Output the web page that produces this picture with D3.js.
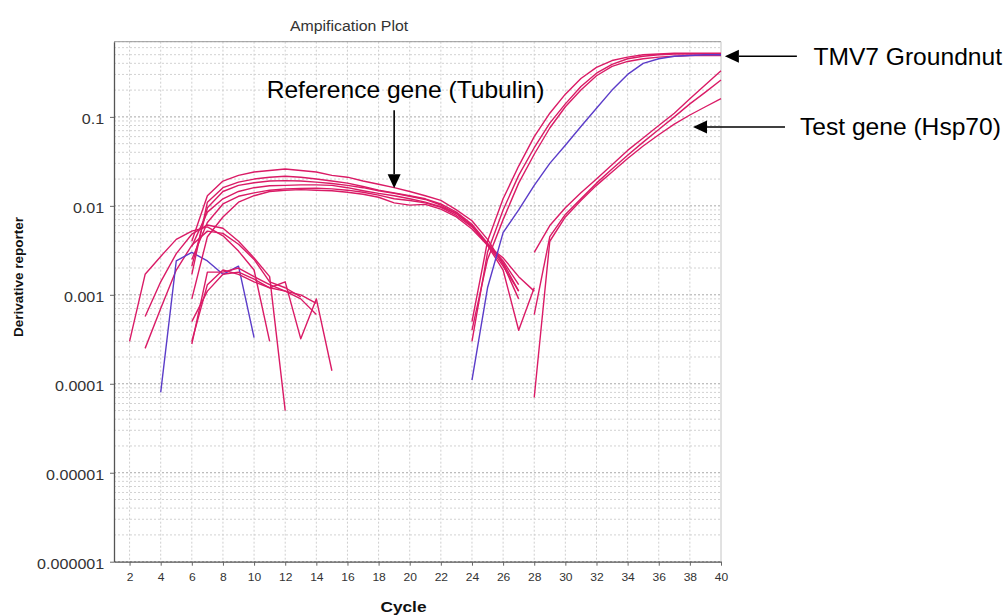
<!DOCTYPE html>
<html>
<head>
<meta charset="utf-8">
<script src="https://cdn.jsdelivr.net/npm/d3@7"></script>
<style>
  body { margin: 0; background: #fff; }
  svg { display: block; font-family: "Liberation Sans", Arial, sans-serif; }
</style>
</head>
<body>
<div id="wrapper"></div>
<script>
// axis ticks
const xTicks = [2, 4, 6, 8, 10, 12, 14, 16, 18, 20, 22, 24, 26, 28, 30, 32, 34, 36, 38, 40];
const yTicks = [0.000001, 0.00001, 0.0001, 0.001, 0.01, 0.1];
const yTickLabels = ["0.000001", "0.00001", "0.0001", "0.001", "0.01", "0.1"];

// early noisy curves (first cycle, then one value per cycle)
const earlyStarts = [2, 3, 3, 4, 6, 6, 6];
const early1 = [0.0003, 0.0017, 0.0027, 0.0042, 0.0052, 0.0058, 0.0046, 0.0031, 0.0019, 0.0003];
const early2 = [0.00057, 0.0014, 0.0029, 0.0048, 0.0061, 0.0056, 0.0040, 0.0026, 0.0016, 0.00005];
const early3 = [0.00025, 0.0007, 0.0019, 0.0036, 0.0052, 0.0049, 0.0037, 0.0025, 0.0014, 0.0012, 0.00095];
const early4 = [0.00008, 0.0024, 0.003, 0.0024, 0.0017, 0.0021, 0.00033];
const early5 = [0.00028, 0.0018, 0.0018, 0.0020, 0.0016, 0.0013, 0.0011, 0.0009, 0.0006];
const early6 = [0.0005, 0.0011, 0.0017, 0.0018, 0.0015, 0.0012, 0.0014, 0.00032, 0.0009, 0.00014];
const early7 = [0.0003, 0.0013, 0.0019, 0.0017, 0.0014, 0.0012, 0.0011, 0.0010, 0.0008];

// reference gene (Tubulin), all start at cycle 6
const tubulinStart = 6;
const tubulin1 = [0.004, 0.013, 0.019, 0.022, 0.024, 0.025, 0.026, 0.025, 0.024, 0.022, 0.021, 0.019, 0.0175, 0.016, 0.0145, 0.013, 0.0115, 0.009, 0.0068, 0.0042, 0.0022, 0.0009];
const tubulin2 = [0.0017, 0.011, 0.016, 0.0185, 0.020, 0.021, 0.0215, 0.021, 0.020, 0.019, 0.018, 0.0165, 0.015, 0.014, 0.013, 0.012, 0.0105, 0.0085, 0.0062, 0.0038, 0.0024, 0.0013];
const tubulin3 = [0.0035, 0.0085, 0.012, 0.0145, 0.016, 0.0168, 0.017, 0.0172, 0.0172, 0.017, 0.016, 0.0148, 0.0138, 0.013, 0.012, 0.011, 0.0098, 0.0082, 0.006, 0.0036, 0.0019, 0.0004, 0.0012];
const tubulin4 = [0.0025, 0.0065, 0.0105, 0.0128, 0.014, 0.015, 0.0155, 0.0157, 0.0158, 0.0155, 0.015, 0.0142, 0.0132, 0.012, 0.0115, 0.0108, 0.0096, 0.0078, 0.0058, 0.0037, 0.0023, 0.0011];
const tubulin5 = [0.0009, 0.0045, 0.0075, 0.011, 0.013, 0.0145, 0.015, 0.0152, 0.015, 0.0148, 0.0142, 0.0135, 0.0125, 0.0108, 0.0102, 0.0104, 0.0092, 0.0075, 0.0055, 0.0036, 0.0026, 0.0016, 0.0011];
const tubulin6 = [0.0021, 0.0095, 0.0145, 0.017, 0.0182, 0.019, 0.0192, 0.019, 0.0185, 0.0178, 0.017, 0.016, 0.0148, 0.0138, 0.0128, 0.0118, 0.0102, 0.0082, 0.006, 0.0037, 0.0021, 0.0011];

// TMV7 Groundnut, start at cycle 24
const tmvStart = 24;
const tmv1 = [0.0005, 0.004, 0.012, 0.028, 0.06, 0.11, 0.18, 0.27, 0.36, 0.43, 0.47, 0.5, 0.51, 0.52, 0.52, 0.52, 0.52];
const tmv2 = [0.0003, 0.003, 0.009, 0.022, 0.045, 0.085, 0.14, 0.22, 0.31, 0.39, 0.45, 0.48, 0.5, 0.51, 0.51, 0.51, 0.51];
const tmv3 = [0.0004, 0.0025, 0.007, 0.018, 0.038, 0.075, 0.13, 0.2, 0.29, 0.37, 0.42, 0.45, 0.47, 0.48, 0.49, 0.49, 0.49];
const tmv4 = [0.00011, 0.0012, 0.005, 0.009, 0.017, 0.03, 0.048, 0.078, 0.125, 0.2, 0.3, 0.4, 0.45, 0.48, 0.49, 0.5, 0.5];

// test gene (Hsp70), start at cycle 28
const hspStart = 28;
const hsp1 = [0.003, 0.006, 0.0095, 0.014, 0.02, 0.029, 0.042, 0.058, 0.08, 0.11, 0.16, 0.23, 0.33];
const hsp2 = [0.0006, 0.0045, 0.008, 0.012, 0.018, 0.026, 0.037, 0.052, 0.072, 0.1, 0.14, 0.19, 0.26];
const hsp3 = [0.00007, 0.004, 0.0075, 0.0115, 0.017, 0.024, 0.034, 0.047, 0.063, 0.083, 0.105, 0.13, 0.16];

// annotations: label and where the arrow points (cycle, value)
const annotationLabels = ["Reference gene (Tubulin)", "TMV7 Groundnut", "Test gene (Hsp70)"];
const annotationCycles = [19, 40.25, 38.2];
const annotationValues = [0.0158, 0.48, 0.077];

function drawPlot() {

  // 1. Data

  const series = [
    { start: earlyStarts[0], values: early1, blue: false },
    { start: earlyStarts[1], values: early2, blue: false },
    { start: earlyStarts[2], values: early3, blue: false },
    { start: earlyStarts[3], values: early4, blue: true },
    { start: earlyStarts[4], values: early5, blue: false },
    { start: earlyStarts[5], values: early6, blue: false },
    { start: earlyStarts[6], values: early7, blue: false },
    ...[tubulin1, tubulin2, tubulin3, tubulin4, tubulin5, tubulin6]
      .map(values => ({ start: tubulinStart, values, blue: false })),
    ...[tmv1, tmv2, tmv3].map(values => ({ start: tmvStart, values, blue: false })),
    { start: tmvStart, values: tmv4, blue: true },
    ...[hsp1, hsp2, hsp3].map(values => ({ start: hspStart, values, blue: false })),
  ];
  series.forEach(s => s.points = s.values.map((v, i) => [s.start + i, v]));

  // 2. Dimensions

  const dimensions = {
    width: 1008,
    height: 615,
    margin: { top: 41.7, right: 287, bottom: 53.3, left: 114 },
  };
  dimensions.boundedWidth = dimensions.width - dimensions.margin.left - dimensions.margin.right;
  dimensions.boundedHeight = dimensions.height - dimensions.margin.top - dimensions.margin.bottom;

  // 3. Canvas

  const wrapper = d3.select("#wrapper")
    .append("svg")
      .attr("width", dimensions.width)
      .attr("height", dimensions.height);

  const bounds = wrapper.append("g")
      .attr("transform", `translate(${dimensions.margin.left}, ${dimensions.margin.top})`);

  // 4. Scales

  const xScale = d3.scaleLinear()
    .domain([1, 40])
    .range([0, dimensions.boundedWidth]);

  const yScale = d3.scaleLog()
    .domain([1e-6, 0.7])
    .range([dimensions.boundedHeight, 0]);

  // 5. Grid

  const gridValues = [];
  for (let e = -6; e <= -1; e++) {
    for (let k = 1; k <= 9; k++) {
      const v = +(k * Math.pow(10, e)).toPrecision(3);
      if (v <= 0.7) gridValues.push({ v, major: k === 1 });
    }
  }

  const grid = bounds.append("g").attr("class", "grid");

  grid.selectAll(".hgrid")
    .data(gridValues)
    .join("line")
      .attr("class", "hgrid")
      .attr("x1", 0)
      .attr("x2", dimensions.boundedWidth)
      .attr("y1", d => yScale(d.v))
      .attr("y2", d => yScale(d.v))
      .attr("stroke", d => d.major ? "#a8a8a8" : "#d2d2d2")
      .attr("stroke-dasharray", "2,2");

  grid.selectAll(".vgrid")
    .data(xTicks.slice(0, -1))
    .join("line")
      .attr("class", "vgrid")
      .attr("x1", d => xScale(d))
      .attr("x2", d => xScale(d))
      .attr("y1", 0)
      .attr("y2", dimensions.boundedHeight)
      .attr("stroke", "#cfcfcf")
      .attr("stroke-dasharray", "2,2");

  // frame top / right
  bounds.append("line")
      .attr("x1", 0).attr("x2", dimensions.boundedWidth)
      .attr("y1", 0).attr("y2", 0)
      .attr("stroke", "#999");
  bounds.append("line")
      .attr("x1", dimensions.boundedWidth).attr("x2", dimensions.boundedWidth)
      .attr("y1", 0).attr("y2", dimensions.boundedHeight)
      .attr("stroke", "#c4c4c4");

  // 6. Curves

  const lineGenerator = d3.line()
    .x(d => xScale(d[0]))
    .y(d => yScale(d[1]));

  bounds.append("g")
    .selectAll("path")
    .data(series)
    .join("path")
      .attr("d", d => lineGenerator(d.points))
      .attr("fill", "none")
      .attr("stroke", d => d.blue ? "#5b3cc9" : "#da1b66")
      .attr("stroke-width", 1.4)
      .attr("stroke-linejoin", "round");

  // 7. Axes

  const xAxis = bounds.append("g")
      .attr("transform", `translate(0, ${dimensions.boundedHeight})`)
      .call(d3.axisBottom(xScale)
        .tickValues(xTicks)
        .tickSize(4)
        .tickSizeOuter(0)
        .tickPadding(8.3))
      .attr("font-family", null)
      .attr("font-size", null);
  xAxis.select(".domain").attr("stroke", "#555").attr("stroke-width", 1.3);
  xAxis.selectAll(".tick line").attr("stroke", "#666");
  xAxis.selectAll("text")
      .attr("font-size", 10.5)
      .attr("fill", "#333")
      .attr("transform", "scale(1.15,1)");

  const yAxis = bounds.append("g")
      .call(d3.axisLeft(yScale)
        .tickValues(yTicks)
        .tickFormat((d, i) => yTickLabels[i])
        .tickSize(4)
        .tickSizeOuter(0)
        .tickPadding(4.5))
      .attr("font-family", null)
      .attr("font-size", null);
  yAxis.select(".domain").attr("stroke", "#555").attr("stroke-width", 1.3);
  yAxis.selectAll(".tick line").attr("stroke", "#666");
  yAxis.selectAll("text")
      .attr("font-size", 14)
      .attr("fill", "#333")
      .attr("dy", "0.5em")
      .attr("transform", "scale(1.15,1)");

  // titles
  wrapper.append("text")
      .attr("transform", `translate(${dimensions.margin.left + xScale(16.1)}, 30.5) scale(1.06,1)`)
      .attr("text-anchor", "middle")
      .attr("font-size", 15)
      .attr("fill", "#333")
      .text("Ampification Plot");

  wrapper.append("text")
      .attr("transform", `translate(${dimensions.margin.left + xScale(19.6)}, 612) scale(1.15,1)`)
      .attr("text-anchor", "middle")
      .attr("font-size", 15)
      .attr("font-weight", "bold")
      .attr("fill", "#111")
      .text("Cycle");

  wrapper.append("text")
      .attr("transform", `translate(22.5, 277) rotate(-90)`)
      .attr("text-anchor", "middle")
      .attr("font-size", 13.5)
      .attr("font-weight", "bold")
      .attr("fill", "#111")
      .text("Derivative reporter");

  // 8. Annotations

  const tips = annotationLabels.map((label, i) => ({
    label,
    x: dimensions.margin.left + xScale(annotationCycles[i]),
    y: dimensions.margin.top + yScale(annotationValues[i]),
  }));
  // tail offset and text offset relative to the tip
  const tails = [[0, -78], [72, 0], [92, 0]];
  const textOffsets = [[-127.5, -90], [88.5, 8.7], [107, 8]];

  const notes = wrapper.append("g");
  tips.forEach((t, i) => {
    const tx = t.x + tails[i][0], ty = t.y + tails[i][1];
    const len = Math.hypot(t.x - tx, t.y - ty);
    const ux = (t.x - tx) / len, uy = (t.y - ty) / len;
    const headLen = 14, headHalf = 6.5;
    const bx = t.x - ux * headLen, by = t.y - uy * headLen;
    notes.append("line")
        .attr("x1", tx).attr("y1", ty)
        .attr("x2", bx).attr("y2", by)
        .attr("stroke", "#000")
        .attr("stroke-width", 1.6);
    notes.append("path")
        .attr("d", `M${t.x},${t.y}L${bx - uy * headHalf},${by + ux * headHalf}L${bx + uy * headHalf},${by - ux * headHalf}Z`)
        .attr("fill", "#000");
    notes.append("text")
        .attr("transform", `translate(${t.x + textOffsets[i][0]}, ${t.y + textOffsets[i][1]}) scale(1.07,1)`)
        .attr("font-size", 23)
        .attr("fill", "#000")
        .text(t.label);
  });
}
drawPlot();
</script>
</body>
</html>
